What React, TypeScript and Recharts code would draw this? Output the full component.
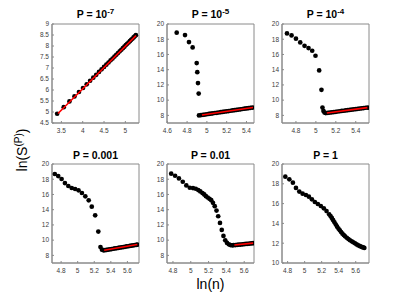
import React from "react";
import { ScatterChart, Scatter, XAxis, YAxis, ReferenceArea } from "recharts";

// P = 1e-7
const lnN1 = [3.401, 3.555, 3.689, 3.807, 3.912, 4.007, 4.094, 4.174, 4.248, 4.317, 4.382, 4.443, 4.5, 4.554, 4.605, 4.654, 4.7, 4.745, 4.787, 4.828, 4.868, 4.905, 4.942, 4.977, 5.011, 5.043, 5.075, 5.106, 5.136, 5.165, 5.193, 5.22, 5.247];
const lnS1 = [4.92, 5.22, 5.48, 5.71, 5.91, 6.09, 6.26, 6.42, 6.56, 6.69, 6.82, 6.94, 7.05, 7.15, 7.25, 7.35, 7.43, 7.52, 7.6, 7.68, 7.76, 7.83, 7.9, 7.97, 8.04, 8.1, 8.16, 8.22, 8.28, 8.33, 8.39, 8.44, 8.49];
const fitX1 = [3.42, 5.25];
const fitY1 = [4.93, 8.47];

// P = 1e-5
const lnN2 = [4.695, 4.779, 4.819, 4.856, 4.897, 4.903, 4.91, 4.917, 4.92, 4.94, 4.96, 4.98, 5.0, 5.02, 5.04, 5.06, 5.08, 5.1, 5.12, 5.14, 5.16, 5.18, 5.2, 5.22, 5.24, 5.26, 5.28, 5.3, 5.32, 5.34, 5.36, 5.38, 5.4, 5.42, 5.44, 5.46];
const lnS2 = [18.86, 18.55, 17.63, 16.92, 14.87, 13.68, 12.24, 10.87, 8.0, 8.04, 8.08, 8.11, 8.15, 8.19, 8.23, 8.27, 8.31, 8.34, 8.38, 8.42, 8.46, 8.5, 8.53, 8.57, 8.61, 8.65, 8.69, 8.72, 8.76, 8.8, 8.84, 8.88, 8.91, 8.95, 8.99, 9.03];
const fitX2 = [4.95, 5.466];
const fitY2 = [8.06, 9.03];

// P = 1e-4
const lnN3 = [4.71, 4.756, 4.8, 4.843, 4.886, 4.926, 4.963, 4.996, 5.033, 5.056, 5.066, 5.076, 5.086, 5.1, 5.12, 5.14, 5.16, 5.18, 5.2, 5.22, 5.24, 5.26, 5.28, 5.3, 5.32, 5.34, 5.36, 5.38, 5.4, 5.42, 5.44, 5.46, 5.48, 5.5, 5.52];
const lnS3 = [18.76, 18.5, 18.07, 17.58, 17.14, 16.84, 16.49, 15.83, 13.9, 11.36, 9.03, 8.59, 8.37, 8.3, 8.33, 8.37, 8.4, 8.44, 8.47, 8.51, 8.54, 8.58, 8.61, 8.65, 8.68, 8.72, 8.75, 8.79, 8.82, 8.86, 8.89, 8.93, 8.96, 9.0, 9.03];
const fitX3 = [5.11, 5.517];
const fitY3 = [8.31, 9.02];

// P = 0.001
const lnN4 = [4.724, 4.765, 4.806, 4.846, 4.887, 4.928, 4.969, 5.01, 5.051, 5.092, 5.133, 5.17, 5.211, 5.249, 5.275, 5.293, 5.312, 5.33, 5.35, 5.37, 5.39, 5.41, 5.43, 5.45, 5.47, 5.49, 5.51, 5.53, 5.55, 5.57, 5.59, 5.61, 5.63, 5.65, 5.67, 5.69, 5.71, 5.72];
const lnS4 = [18.69, 18.42, 18.03, 17.5, 17.11, 16.85, 16.72, 16.54, 16.19, 15.75, 15.23, 14.4, 13.26, 11.12, 9.1, 8.75, 8.67, 8.69, 8.72, 8.76, 8.8, 8.83, 8.87, 8.91, 8.94, 8.98, 9.02, 9.06, 9.09, 9.13, 9.17, 9.2, 9.24, 9.28, 9.32, 9.35, 9.39, 9.41];
const fitX4 = [5.32, 5.72];
const fitY4 = [8.68, 9.42];

// P = 0.01
const lnN5 = [4.78, 4.824, 4.867, 4.91, 4.95, 4.989, 5.025, 5.056, 5.084, 5.107, 5.131, 5.151, 5.17, 5.19, 5.21, 5.23, 5.249, 5.269, 5.289, 5.308, 5.328, 5.348, 5.367, 5.387, 5.407, 5.427, 5.446, 5.466, 5.48, 5.5, 5.52, 5.54, 5.56, 5.58, 5.6, 5.62, 5.64, 5.66, 5.68, 5.7];
const lnS5 = [18.73, 18.46, 18.11, 17.67, 17.19, 16.88, 16.84, 16.75, 16.57, 16.4, 16.18, 16.0, 15.78, 15.6, 15.43, 15.25, 14.9, 14.46, 13.89, 13.14, 12.26, 11.34, 10.55, 9.98, 9.63, 9.45, 9.36, 9.32, 9.34, 9.36, 9.38, 9.4, 9.42, 9.45, 9.47, 9.5, 9.52, 9.55, 9.57, 9.6];
const fitX5 = [5.49, 5.7];
const fitY5 = [9.36, 9.61];

// P = 1
const lnN6 = [4.773, 4.82, 4.862, 4.898, 4.937, 4.976, 5.015, 5.05, 5.085, 5.12, 5.155, 5.19, 5.225, 5.257, 5.288, 5.304, 5.319, 5.335, 5.35, 5.366, 5.381, 5.397, 5.413, 5.428, 5.444, 5.46, 5.475, 5.495, 5.514, 5.533, 5.553, 5.572, 5.592, 5.611, 5.631, 5.65, 5.67, 5.686, 5.701];
const lnS6 = [18.72, 18.45, 18.11, 17.58, 17.21, 17.0, 16.87, 16.7, 16.43, 16.16, 15.96, 15.76, 15.52, 15.25, 14.92, 14.74, 14.55, 14.33, 14.11, 13.89, 13.67, 13.48, 13.3, 13.13, 12.96, 12.82, 12.69, 12.55, 12.42, 12.3, 12.19, 12.09, 11.99, 11.88, 11.78, 11.7, 11.62, 11.57, 11.52];

const ticksX1 = [3.5, 4, 4.5, 5];
const ticksY1 = [4.5, 5, 5.5, 6, 6.5, 7, 7.5, 8, 8.5, 9];
const ticksX2 = [4.6, 4.8, 5, 5.2, 5.4];
const ticksX3 = [4.8, 5, 5.2, 5.4];
const ticksXrow2 = [4.8, 5, 5.2, 5.4, 5.6];
const ticksY = [8, 10, 12, 14, 16, 18, 20];
const ticksY6 = [10, 12, 14, 16, 18, 20];

type Pt = { x: number; y: number };
const zip = (xs: number[], ys: number[]): Pt[] => xs.map((x, i) => ({ x, y: ys[i] }));

const FONT = '"Liberation Sans", Arial, Helvetica, sans-serif';
const FRAME = "#8a8a8a";
const TICK_TXT = "#3c3c3c";

const BOX_W = 87;
const BOX_H = 99;
const YW = 30;
const MT = 3;
const MR = 3;
const XH = 16;

const Dot = (p: any) => <circle cx={p.cx} cy={p.cy} r={2.35} fill="#000" />;
const NoDot = () => <g />;

interface PanelProps {
  left: number;
  top: number;
  xDomain: [number, number];
  yDomain: [number, number];
  xTicks: number[];
  yTicks: number[];
  pts: Pt[];
  fit?: Pt[];
}

function Panel({ left, top, xDomain, yDomain, xTicks, yTicks, pts, fit }: PanelProps) {
  const tickStyle = { fontSize: 6.5, fill: TICK_TXT, fontFamily: FONT };
  return (
    <div style={{ position: "absolute", left: left - YW, top: top - MT }}>
      <ScatterChart
        width={YW + BOX_W + MR}
        height={MT + BOX_H + XH}
        margin={{ top: MT, right: MR, bottom: 0, left: 0 }}
      >
        <XAxis
          xAxisId="b" type="number" dataKey="x" domain={xDomain} ticks={xTicks}
          allowDataOverflow interval={0} height={XH}
          tickSize={-2} tickMargin={7} stroke={FRAME} tick={tickStyle}
        />
        <XAxis
          xAxisId="t" type="number" orientation="top" domain={xDomain} ticks={xTicks}
          allowDataOverflow interval={0} height={0}
          tickSize={-2} stroke={FRAME} tick={false}
        />
        <YAxis
          yAxisId="l" type="number" dataKey="y" domain={yDomain} ticks={yTicks}
          allowDataOverflow interval={0} width={YW}
          tickSize={-2} tickMargin={5} stroke={FRAME} tick={tickStyle}
        />
        <YAxis
          yAxisId="r" type="number" orientation="right" domain={yDomain} ticks={yTicks}
          allowDataOverflow interval={0} width={0}
          tickSize={-2} stroke={FRAME} tick={false}
        />
        <ReferenceArea
          xAxisId="b" yAxisId="l"
          x1={xDomain[0]} x2={xDomain[1]} y1={yDomain[0]} y2={yDomain[1]}
          fill="none" stroke={FRAME} strokeWidth={1} ifOverflow="visible"
        />
        <Scatter data={pts} xAxisId="b" yAxisId="l" shape={Dot} isAnimationActive={false} />
        {fit && (
          <Scatter
            data={fit} xAxisId="b" yAxisId="l"
            line={{ stroke: "#ff0000", strokeWidth: 1.6 }}
            shape={NoDot} isAnimationActive={false}
          />
        )}
      </ScatterChart>
    </div>
  );
}

const COLS = [52, 167, 282];
const ROWS = [24, 164];

export default function App() {
  const cx = COLS.map((c) => c + BOX_W / 2);
  return (
    <div style={{ position: "absolute", left: 0, top: 0, width: 407, height: 297, background: "#fff", fontFamily: FONT }}>
      <svg width={407} height={297} style={{ position: "absolute", left: 0, top: 0 }}>
        <g fontFamily={FONT} fontWeight="bold" fontSize={10.5} textAnchor="middle" fill="#000">
          <text x={cx[0]} y={18}>P = 10<tspan dy={-4.5} fontSize={8}>-7</tspan></text>
          <text x={cx[1]} y={18}>P = 10<tspan dy={-4.5} fontSize={8}>-5</tspan></text>
          <text x={cx[2]} y={18}>P = 10<tspan dy={-4.5} fontSize={8}>-4</tspan></text>
          <text x={cx[0]} y={159}>P = 0.001</text>
          <text x={cx[1]} y={159}>P = 0.01</text>
          <text x={cx[2]} y={159}>P = 1</text>
        </g>
        <text x={cx[1]} y={289} textAnchor="middle" fontFamily={FONT} fontSize={14} fill="#000">ln(n)</text>
        <text
          x={0} y={0} transform="translate(27,150) rotate(-90)"
          textAnchor="middle" fontFamily={FONT} fontSize={14} fill="#000"
        >
          ln(S<tspan dy={-5} fontSize={10}>(P)</tspan><tspan dy={5}>)</tspan>
        </text>
      </svg>
      <Panel left={COLS[0]} top={ROWS[0]} xDomain={[3.28, 5.32]} yDomain={[4.5, 9]} xTicks={ticksX1} yTicks={ticksY1} pts={zip(lnN1, lnS1)} fit={zip(fitX1, fitY1)} />
      <Panel left={COLS[1]} top={ROWS[0]} xDomain={[4.597, 5.476]} yDomain={[7, 20]} xTicks={ticksX2} yTicks={ticksY} pts={zip(lnN2, lnS2)} fit={zip(fitX2, fitY2)} />
      <Panel left={COLS[2]} top={ROWS[0]} xDomain={[4.66, 5.533]} yDomain={[7, 20]} xTicks={ticksX3} yTicks={ticksY} pts={zip(lnN3, lnS3)} fit={zip(fitX3, fitY3)} />
      <Panel left={COLS[0]} top={ROWS[1]} xDomain={[4.69, 5.74]} yDomain={[7, 20]} xTicks={ticksXrow2} yTicks={ticksY} pts={zip(lnN4, lnS4)} fit={zip(fitX4, fitY4)} />
      <Panel left={COLS[1]} top={ROWS[1]} xDomain={[4.733, 5.71]} yDomain={[7, 20]} xTicks={ticksXrow2} yTicks={ticksY} pts={zip(lnN5, lnS5)} fit={zip(fitX5, fitY5)} />
      <Panel left={COLS[2]} top={ROWS[1]} xDomain={[4.734, 5.756]} yDomain={[10, 20]} xTicks={ticksXrow2} yTicks={ticksY6} pts={zip(lnN6, lnS6)} />
    </div>
  );
}
